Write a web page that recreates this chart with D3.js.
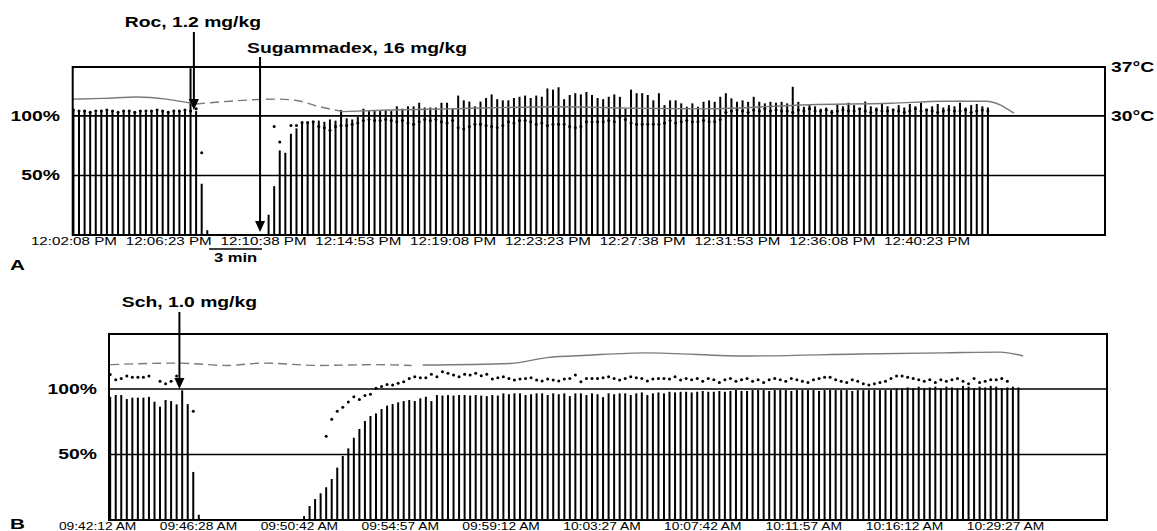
<!DOCTYPE html>
<html>
<head>
<meta charset="utf-8">
<script src="https://cdn.jsdelivr.net/npm/d3@7"></script>
<style>
body { margin: 0; background: #fff; }
svg { display: block; }
</style>
</head>
<body>
<svg width="1157" height="531"></svg>
<script>
// Two TOF-Watch recordings: T1 twitch height (bars), TOF ratio (dots), skin temperature (grey line)
// the scanned figure is stretched sideways, so all lettering gets a horizontal scale too
var SX = 1.38;

// ---- panel A : rocuronium then sugammadex, one stimulus every 15 s ----
var barsA = [105,104,105,104,103,105,104,104,103,104,105,104,104,103,104,105,104,104,105,104,104,140,104,
  43,4,
  null,null,null,null,null,null,null,null,null,null,
  17,41,71,69,85,89.5,94,95,95,
  96,95,97,96,105,98,97,99,106,104,104,104,105,104,108,106,108,108,111,107,107,107,111,111,106,
  117,113,112,108,112,115,118,114,113,113,115,116,117,115,117,116,123,122,124,114,
  117.5,119,118,120,117.5,115,114,116,118,116,106,122,119,119,117.5,113,119,109,113,113,
  110.5,107.6,110.5,107.6,111.8,113,111.8,116,119,114.7,111.8,113,111.8,116,111.8,
  110.5,111.8,111,111.8,110.5,124.4,111.8,107.6,109,
  108,106,107,105,110,108,111,109,106,112,108,107,110,108,106,109,107,110,108,111,106,108,110,107,109,108,111,107,109,110,108,107];
var tofA = [105,104,104,103,104,104,105,104,103,104,104,103,104,104,104,105,104,103,104,104,105,104,106,
  69,
  null,null,null,null,null,null,null,null,null,null,null,null,
  91,78,null,92,92,94.5,94.5,95,
  91,90,88,91,92,92,93,94,96,97,96,96,97,96,95,96,94,93,95,97,96,97,95,94,96,90,89,91,93,93,92,91,90,92,95,94,96,96,95,93,94,92,93,93,93,
  91,90,91,95,95,95,95,96,95,99,97,94,93,93,93,93,93,94,96,94,95,96,95,95,96,95,95,97,
  103,104,105,104,103,105,104,106,104,105,104,104,103,105,104,106,104,104,105,103,104,105,104,104,
  106,104,103,105,104,104,105,104,103,104,106,104,105,104,103,104,105,104,104,105,103,104,105,104];
var timesA = ["12:02:08 PM","12:06:23 PM","12:10:38 PM","12:14:53 PM","12:19:08 PM",
  "12:23:23 PM","12:27:38 PM","12:31:53 PM","12:36:08 PM","12:40:23 PM"];
// temperature, [seconds from 12:02:08, degC]
var tempA1 = [[-2,32.4],[80,32.5],[171,32.7],[250,32.4],[313,31.85],[330,31.7]];
var tempA2 = [[330,31.7],[420,32.1],[546,32.4],[600,32.2],[663,31.3],[725,30.6]];
var tempA3 = [[725,30.6],[830,30.8],[1010,31.0],[1300,31.3],[1500,31.1],[1700,31.0],[1980,31.6],
  [2200,31.8],[2340,32.1],[2455,32.1],[2530,30.4]];
var doseTextA = ["Roc, 1.2 mg/kg", "Sugammadex, 16 mg/kg"];
var doseTimeA = [324, 502];
var doseTipA = [105, 2.5];

// ---- panel B : succinylcholine ----
var barsB = [94,95.4,95.4,92.4,93.4,93.4,93.4,94,90.3,86.5,91.6,90.8,88.3,99,88.5,36.7,4,
  null,null,null,null,null,null,null,null,null,null,null,null,null,null,null,null,null,null,
  3,10.7,16,20.4,25,31.3,40,48.9,54.7,62.8,69.5,75.6,79.4,81.4,84.7,87.3,88.5,89.8,
  90.8,91.6,90.8,92.9,94.1,90.8,95.4,95,95.4,95,95.4,95.4,95,95.4,95,94.6,95.4,95,
  96.7,96,96.7,96.7,95.4,96,96.7,96.7,95.4,96.7,96,96.7,94.6,96.7,96.7,95.4,96.7,96,93.8,96.7,
  96,96.7,96.7,95.4,96.7,97.4,95.4,96.7,97.4,96.7,
  97.9,97.4,97.9,97.9,97.4,97.9,98.5,97.9,97.9,98.5,97.9,98.5,99.2,98.5,98.5,99.2,
  99.2,99.2,98.5,99.2,99.2,99.2,98.5,99.2,99.2,99.2,99.2,98.5,99.2,99.2,99.2,99.2,99.2,98.5,99.2,99.2,
  99.2,99.2,99.2,99.2,99.2,
  100.5,100.5,101.2,100.5,101.8,100.5,101.2,101.8,100.5,101.8,101.2,100.5,102.4,101.8,100.5,101.8,
  101.2,102.4,101.8,100.5,101.2,101.8,101.2];
var tofB = [111,107,108,110,109,109,109,110,null,106,104,106,110,null,null,83,
  null,null,null,null,null,null,null,null,null,null,null,null,null,null,null,null,null,null,null,null,null,null,null,
  64,77,83,86,90,94,92,95,96,100.5,102,103.5,
  103,104.4,105.6,108.1,109.4,108.6,108.6,111.2,109.4,113.2,112,110.7,109.4,111.2,110.7,112,110.2,111.2,
  107.6,108.6,109.4,108.1,106.9,107.6,108.1,108.6,106.9,106.1,107.6,106.9,106.1,107.6,108.1,110.7,105.6,
  108.1,108.1,108.1,108.6,109.4,108.1,106.9,108.1,109.4,108.6,108.1,106.1,107.6,108.1,108.1,107.6,109.4,106.9,108,
  107,108,106,108,107,105,107,108,106,107,108,106,107,105,107,108,107,106,108,107,
  106,105,107,108,109,109,107,106,105,107,106,104,103,104,105,106,108,110,110,109,
  108,107,106,107,105,107,106,107,108,106,104,108,105,106,107,107,108,106,null,null];
var timesB = ["09:42:12 AM","09:46:28 AM","09:50:42 AM","09:54:57 AM","09:59:12 AM",
  "10:03:27 AM","10:07:42 AM","10:11:57 AM","10:16:12 AM","10:29:27 AM"];
var tempB1 = [[33,33.1],[200,33.3],[330,33.0],[420,33.3],[560,33.0],[700,33.1],[795,33.0]];
var tempB2 = [[823,33.05],[1044,33.25],[1137,34.0],[1240,34.3],[1390,34.6],[1643,34.2],[1929,34.45],
  [2139,34.6],[2283,34.7],[2341,34.2]];
var doseTextB = ["Sch, 1.0 mg/kg"];
var doseTimeB = [208];
var doseTipB = [100];

var pctTicks = [50, 100];
var degTicks = [30, 37];

var svg = d3.select("svg");
var FONT = "Liberation Sans, Arial, sans-serif";

function label(g, x, y, txt, anchor, size, weight) {
  return g.append("text")
    .attr("transform", "translate(" + x + "," + y + ") scale(" + SX + ",1)")
    .attr("text-anchor", anchor)
    .attr("font-family", FONT)
    .attr("font-size", size)
    .attr("font-weight", weight)
    .attr("fill", "#000")
    .text(txt);
}

function panel(c) {
  var g = svg.append("g");
  var x = d3.scaleLinear().domain(c.tDomain).range([c.left, c.right]);
  var y = d3.scaleLinear().domain([0, c.pctMax]).range([c.bottom, c.top]);
  var yT = d3.scaleLinear().domain([30, 37]).range([y(100), c.top]);

  // gridlines at 50 and 100 %
  g.selectAll("line.grid").data(pctTicks).enter().append("line")
    .attr("x1", c.left).attr("x2", c.right)
    .attr("y1", function(d) { return y(d); }).attr("y2", function(d) { return y(d); })
    .attr("stroke", "#000").attr("stroke-width", 1.6);

  // T1 bars
  var bars = c.bars.map(function(v, i) { return {t: c.start + c.step * i, v: v}; })
    .filter(function(d) { return d.v != null; });
  g.selectAll("line.bar").data(bars).enter().append("line")
    .attr("x1", function(d) { return x(d.t); }).attr("x2", function(d) { return x(d.t); })
    .attr("y1", c.bottom).attr("y2", function(d) { return y(d.v); })
    .attr("stroke", "#000").attr("stroke-width", 2);

  // temperature
  var line = d3.line().curve(d3.curveMonotoneX)
    .x(function(d) { return x(d[0]); }).y(function(d) { return yT(d[1]); });
  c.temps.forEach(function(seg, i) {
    g.append("path").attr("d", line(seg))
      .attr("fill", "none").attr("stroke", "#7a7a7a").attr("stroke-width", 1.4)
      .attr("stroke-dasharray", c.dashed[i] ? "9,5" : null);
  });

  // TOF ratio dots
  var dots = c.tof.map(function(v, i) { return {t: c.start + c.step * i, v: v}; })
    .filter(function(d) { return d.v != null; });
  g.selectAll("circle.tof").data(dots).enter().append("circle")
    .attr("cx", function(d) { return x(d.t); }).attr("cy", function(d) { return y(d.v); })
    .attr("r", 1.5).attr("fill", "#000");

  // frame
  g.append("rect").attr("x", c.left).attr("y", c.top)
    .attr("width", c.right - c.left).attr("height", c.bottom - c.top)
    .attr("fill", "none").attr("stroke", "#000").attr("stroke-width", 2);

  // time labels
  var ax = g.append("g").attr("transform", "translate(0," + c.timeY + ")")
    .call(d3.axisBottom(x).tickValues(c.times.map(function(d, i) { return 255 * i; }))
      .tickFormat(function(d, i) { return c.times[i]; }).tickSize(0));
  ax.select(".domain").remove();
  ax.selectAll("text").attr("y", 0).attr("dy", null)
    .attr("transform", "scale(" + SX + ",1)")
    .attr("font-family", FONT).attr("font-size", c.timeSize).attr("fill", "#000");

  // percent labels
  var ay = g.append("g").attr("transform", "translate(" + c.pctX + ",0)")
    .call(d3.axisLeft(y).tickValues(pctTicks).tickFormat(function(d) { return d + "%"; })
      .tickSize(0).tickPadding(0));
  ay.select(".domain").remove();
  ay.selectAll("text").attr("transform", "scale(" + SX + ",1)")
    .attr("font-family", FONT).attr("font-size", 14).attr("font-weight", "bold").attr("fill", "#000");

  if (c.degX) {
    var ad = g.append("g").attr("transform", "translate(" + c.degX + ",0)")
      .call(d3.axisRight(yT).tickValues(degTicks).tickFormat(function(d) { return d + "\u00b0C"; })
        .tickSize(0).tickPadding(0));
    ad.select(".domain").remove();
    ad.selectAll("text").attr("transform", "scale(" + SX + ",1)")
      .attr("font-family", FONT).attr("font-size", 14).attr("font-weight", "bold").attr("fill", "#000");
  }

  // drug arrows
  c.doseText.forEach(function(txt, i) {
    var lay = c.doseLayout[i];
    var px = x(c.doseTime[i]), tip = y(c.doseTip[i]);
    g.append("line").attr("x1", px).attr("x2", px).attr("y1", lay.top).attr("y2", tip - 9)
      .attr("stroke", "#000").attr("stroke-width", 2);
    g.append("path")
      .attr("d", "M" + (px - 5) + "," + (tip - 11) + "L" + (px + 5) + "," + (tip - 11) + "L" + px + "," + tip + "Z")
      .attr("fill", "#000");
    label(g, px + lay.dx, lay.textY, txt, lay.anchor, 14, "bold");
  });

  label(g, 10, c.letterY, c.letter, "start", 15, "bold");
  return g;
}

var gA = panel({
  left: 72.7, right: 1105, top: 67, bottom: 235, tDomain: [-2, 2775], pctMax: 141,
  start: 0, step: 15, bars: barsA, tof: tofA, temps: [tempA1, tempA2, tempA3], dashed: [false, true, false],
  times: timesA, timeY: 245, timeSize: 11, pctX: 60, degX: 1111,
  doseText: doseTextA, doseTime: doseTimeA, doseTip: doseTipA,
  doseLayout: [{top: 32, textY: 27, dx: -1, anchor: "middle"}, {top: 57, textY: 53, dx: -13, anchor: "start"}],
  letter: "A", letterY: 270
});

// 3 min scale bar under panel A
gA.append("line").attr("x1", 209).attr("x2", 262).attr("y1", 249).attr("y2", 249)
  .attr("stroke", "#000").attr("stroke-width", 1.5);
label(gA, 235.5, 262, "3 min", "middle", 12, "bold");

panel({
  left: 109, right: 1107, top: 334, bottom: 520, tDomain: [30, 2553], pctMax: 142,
  start: 33, step: 14, bars: barsB, tof: tofB, temps: [tempB1, tempB2], dashed: [true, false],
  times: timesB, timeY: 530, timeSize: 10, pctX: 97, degX: null,
  doseText: doseTextB, doseTime: doseTimeB, doseTip: doseTipB,
  doseLayout: [{top: 312, textY: 307, dx: 10, anchor: "middle"}],
  letter: "B", letterY: 529
});
</script>
</body>
</html>
